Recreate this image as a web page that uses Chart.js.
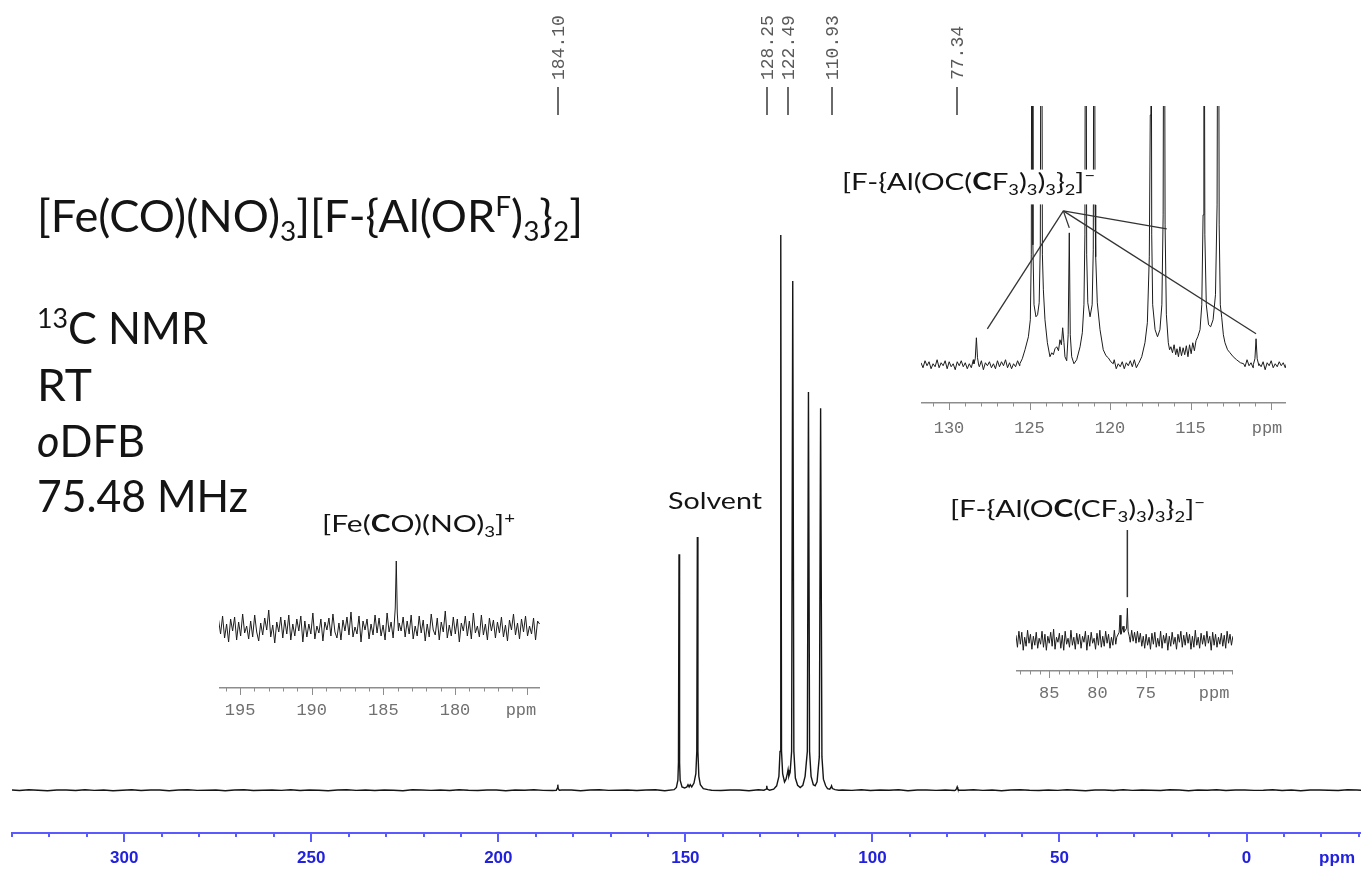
<!DOCTYPE html>
<html>
<head>
<meta charset="utf-8">
<script src="https://cdn.jsdelivr.net/npm/chart.js@4.4.1/dist/chart.umd.min.js"></script>
<style>
  html, body { margin: 0; padding: 0; background: #fff; }
  #wrap { position: relative; width: 1361px; height: 870px; overflow: hidden; background: #fff; }
  canvas { position: absolute; }
</style>
</head>
<body>
<div id="wrap">
  <canvas id="insetCO" width="321" height="172" style="left:219px;top:550px"></canvas>
  <canvas id="insetAnion" width="217" height="185" style="left:1016px;top:520px"></canvas>
  <canvas id="insetSolvent" width="365" height="331" style="left:921px;top:106px"></canvas>
  <canvas id="main" width="1361" height="870" style="left:0;top:0"></canvas>
</div>
<script>
// ---------- full 13C spectrum (intensity: tallest line = 100) ----------
const mainRange = [-30.6, 330.0];
const mainTickLabels = [300, 250, 200, 150, 100, 50, 0];
const mainUnitAt = -24.2;
const mainNoiseStart = 330.5, mainNoiseStep = 2.5;
const mainNoise = [
  0.05,-0.05,0.08,0,-0.08,0.05,0.03,-0.05,0.1,-0.03,0.05,-0.08,0,0.08,-0.05,0.03,0.05,-0.1,0.03,0.08,
  -0.03,0,0.05,-0.08,0.03,0.1,-0.05,0,0.05,-0.03,0.08,-0.05,0.03,0,-0.08,0.05,0.1,-0.03,0.03,-0.05,
  0.05,0,-0.08,0.08,0.03,-0.03,0.05,-0.05,0.1,0,-0.05,0.05,0.03,-0.08,0.05,0,0.08,-0.03,-0.05,0.05,
  0.03,-0.1,0.05,0.08,-0.03,0,0.05,-0.05,0.03,0.1,-0.08,0,0.05,-0.03,0.08,0,-0.05,0.03,0.05,-0.08,
  0.1,0,-0.03,0.05,-0.05,0.08,0.03,-0.08,0,0.05,-0.03,0.1,-0.05,0.03,0,0.08,-0.1,0.05,0.03,-0.03,
  0.05,-0.05,0,0.08,-0.03,0.05,-0.08,0.03,0.1,0,-0.05,0.05,-0.03,0.08,0,-0.08,0.05,0.03,-0.05,0.1,
  -0.03,0.05,0,-0.05,0.08,0.03,-0.08,0.05,0,0.1,-0.05,0.03,0.05,-0.03,0,0.08,-0.05,0.05,-0.08,0.03,
  0.05,0,-0.05,0.08,0.03,-0.03
];
const mainPeakCO = [[184.5,0],[184.2,0.4],[184.1,1.0],[184.0,0.3],[183.7,0]];
const mainPeaksCF = [[153.0,0.1],[152.4,0.5],[152.0,1.8],[151.85,5],[151.7,42.5],[151.55,5],[151.4,1.8],[150.9,0.6],[150.2,0.4],[149.6,0.6],[149.3,1.0],[149.0,0.6],[148.7,1.0],[148.3,0.6],[147.7,1.3],[147.2,3],[146.95,7],[146.8,45.6],[146.65,7],[146.4,2.5],[146.0,1.0],[145.2,0.3],[144.0,0.1]];
const mainPeak128 = [[129.0,0],[128.4,0.2],[128.25,0.8],[128.1,0.2],[127.5,0]];
const mainPeaksCH = [[126.4,0.2],[125.6,0.8],[125.0,2.5],[124.7,7],[124.5,100],[124.3,7],[124.0,3],[123.5,1.5],[123.1,2],[122.75,3],[122.55,3.7],[122.35,2.5],[122.0,3.2],[121.6,7],[121.3,91.7],[121.0,7],[120.6,2.2],[120.0,0.9],[119.3,0.5],[118.6,0.9],[118.0,2.5],[117.4,7],[117.1,71.7],[116.8,7],[116.4,2.5],[115.8,1.0],[115.3,0.8],[114.8,1.5],[114.2,6],[113.85,68.8],[113.5,6],[113.1,2],[112.5,0.8],[112.0,0.3],[111.4,0.2],[111.1,0.5],[110.93,0.8],[110.7,0.3],[110.0,0.1],[109.0,0]];
const mainPeak77 = [[77.8,0],[77.5,0.3],[77.34,0.6],[77.2,0.3],[76.9,0]];
const peakLabelPpm = [184.10, 128.25, 122.49, 110.93, 77.34];

// ---------- inset: carbonyl region ----------
const coRange = [174.07, 196.47];
const coTickLabels = [195, 190, 185, 180];
const coUnitAt = 175.4;
const coNoiseStart = 196.5, coNoiseStep = 0.14;
const coNoise = [
  8,-6,12,-10,4,-14,9,-3,11,-12,6,-8,14,-5,2,-11,7,-9,13,-4,
  -13,5,-7,10,-2,18,-9,3,-15,6,-4,11,-10,8,-6,13,-12,4,-8,9,
  -3,12,-14,7,-9,4,-6,15,-11,2,-5,9,-13,6,-2,10,-8,14,-4,-10,
  5,-12,8,-3,11,-7,16,-9,1,-6,12,-14,7,-2,9,-11,4,-7,13,-5,
  10,-8,3,-12,15,-4,6,-10,9,-15,5,-3,11,-9,7,-6,13,-11,2,-8,
  12,-5,8,-13,4,-9,14,-2,-7,10,-12,6,-4,17,-10,3,-8,11,-6,9,
  -14,5,-3,12,-8,7,-11,15,-5,2,-9,13,-7,4,-12,10,-3,8,-10,6,
  -5,11,-9,3,-13,8,-2,14,-7,5,-11,9,-4,12,-8,2,-6,10,-12,7,
  4
];
const coPeak = [[184.25,2],[184.17,20],[184.1,67],[184.03,15],[183.95,-3]];

// ---------- inset: anion quaternary carbon ----------
const anRange = [65.94, 88.45];
const anTickLabels = [85, 80, 75];
const anUnitAt = 67.9;
const anNoiseStart = 88.45, anNoiseStep = 0.15;
const anNoise = [
  5,-7,9,-4,8,-10,3,-6,10,-3,6,-9,4,-5,8,-8,2,-4,9,-7,
  6,-10,4,-3,8,-6,11,-9,3,-2,7,-8,5,-10,9,-4,2,-7,10,-5,
  3,-9,7,-4,6,-8,4,-2,9,-10,5,-6,8,-3,2,-9,7,-5,10,-7,
  4,-6,9,-3,6,-8,3,-5,10,-4,7,-2,11,-3,8,-1,12,-4,9,-2,
  10,-1,8,-3,9,-2,7,-6,4,-8,6,-5,3,-9,7,-4,8,-7,2,-6,
  9,-8,5,-3,7,-10,4,-6,8,-4,3,-9,6,-2,9,-7,5,-5,8,-3,
  6,-9,4,-7,10,-5,3,-8,7,-4,5,-6,9,-3,4,-10,8,-5,6,-7,
  3,-4,7,-6,5,-8,9,-3,6,-5,4
];
const anPeak = [[78.0,3],[77.75,8],[77.66,25],[77.57,6],[77.45,10],[77.35,14],[77.25,8],[77.1,10],[76.98,12],[76.9,32],[76.82,9],[76.7,4]];
const anPointer = [[76.9,43],[76.9,110]];

// ---------- inset: aromatic / CF3 region ----------
const soRange = [109.07, 131.74];
const soTickLabels = [130, 125, 120, 115];
const soUnitAt = 110.25;
const soNoiseStart = 131.74, soNoiseStep = 0.125;
const soNoise = [
  2,-3,4,-1,3,-4,1,-2,5,-3,2,-1,4,-4,3,-2,1,-5,3,-1,
  4,-2,2,-4,1,-3,5,-1,3,-2,4,-5,2,-1,3,-3,1,-4,4,-2,
  3,-1,5,-3,2,-4,1,-2,4,-1,3,-5,2,-3,4,-2,1,-1,3,-4,
  2,-3,4,-2,5,-1,3,-4,1,-2,4,-3,2,-5,3,-1,4,-2,1,-3,
  5,-2,3,-4,2,-1,4,-3,1,-5,3,-2,4,-1,2,-3,5,-4,1,-2,
  3,-4,2,-1,4,-2,5,-3,1,-1,3,-4,2,-2,4,-5,1,-3,3,-1,
  4,-3,1,-2,5,-4,2,-1,3,-3,4,-2,1,-5,2,-1,3,-4,4,-2,
  2,-1,3,-5,4,-2,1,-3,5,-1,2,-4,3,-2,1,-3,4,-1,2,-4,
  3,-2,5,-1,2,-3,4,-4,1,-2,3,-5,2,-1,4,-3,1,-2,3,-1,
  2,-3,4
];
const soPeak128 = [[128.45,1],[128.37,6],[128.3,27],[128.23,7],[128.15,-1]];
const soPeaks124 = [[125.6,1],[125.45,6],[125.28,15],[125.07,28],[124.95,45],[124.89,110],[124.84,600],[124.79,120],[124.72,60],[124.6,48],[124.5,50],[124.4,62],[124.33,120],[124.26,600],[124.2,110],[124.14,75],[124.04,45],[123.89,22],[123.73,8],[123.62,12],[123.52,10],[123.42,16],[123.31,18],[123.2,14],[123.11,25],[123.02,20],[122.94,37],[122.86,22],[122.8,8],[122.69,4],[122.6,30],[122.53,132],[122.47,30],[122.38,8],[122.24,1],[122.07,5],[121.86,18],[121.72,32],[121.62,60],[121.56,130],[121.51,600],[121.45,110],[121.38,62],[121.24,48],[121.11,60],[121.04,115],[120.98,600],[120.93,160],[120.89,108],[120.79,62],[120.62,35],[120.42,15],[120.25,9],[120.11,7],[119.95,3],[119.8,1]];
const soPeaks117 = [[118.2,2],[118.03,8],[117.83,22],[117.68,42],[117.56,108],[117.5,250],[117.46,600],[117.41,130],[117.35,60],[117.2,35],[117.05,28],[116.9,35],[116.78,60],[116.7,150],[116.64,600],[116.58,140],[116.5,50],[116.38,22],[116.3,15],[116.22,18],[116.12,12],[116.02,20],[115.92,10],[115.84,16],[115.75,8],[115.66,18],[115.56,9],[115.46,17],[115.36,10],[115.26,19],[115.16,8],[115.06,20],[114.96,11],[114.86,22],[114.76,14],[114.66,24],[114.55,28],[114.41,35],[114.3,60],[114.22,150],[114.17,600],[114.11,130],[114.02,60],[113.88,40],[113.75,38],[113.6,45],[113.45,70],[113.35,160],[113.28,600],[113.22,140],[113.15,60],[113.06,47],[112.96,30],[112.86,22],[112.7,15],[112.55,12],[112.35,8],[112.14,5],[111.9,2],[111.7,1]];
const soPeak111 = [[111.1,0],[111.0,6],[110.93,26],[110.86,6],[110.75,-1]];
const soPointers = [
  [[122.9,154],[127.62,36]],
  [[122.9,154],[122.53,137]],
  [[122.9,154],[116.48,136]],
  [[122.9,154],[110.93,31]]
];

// ---------- captions ----------
const captions = [
  {x:37, y:232, size:44, w:546, segs:[['[Fe(CO)(NO)',''],['3','sub'],['][F-{Al(OR',''],['F','sup'],[')',''],['3','sub'],['}',''],['2','sub'],[']','']]},
  {x:37, y:344, size:44, w:171, segs:[['13','sup'],['C NMR','']]},
  {x:37, y:401, size:44, w:55, segs:[['RT','']]},
  {x:37, y:457, size:44, w:108, segs:[['o','i'],['DFB','']]},
  {x:37, y:512, size:44, w:211, segs:[['75.48 MHz','']]},
  {x:322, y:532, size:24, w:193, segs:[['[Fe(',''],['C','b'],['O)(NO)',''],['3','sub'],[']',''],['+','sup']]},
  {x:668, y:509, size:24, w:94, segs:[['Solvent','']]},
  {x:950, y:517, size:24, w:255, segs:[['[F-{Al(O',''],['C','b'],['(CF',''],['3','sub'],[')',''],['3','sub'],[')',''],['3','sub'],['}',''],['2','sub'],[']',''],['\u2212','sup']]},
  {x:842, y:190, size:24, w:253, bg:'#ffffff', segs:[['[F-{Al(OC(',''],['C','b'],['F',''],['3','sub'],[')',''],['3','sub'],[')',''],['3','sub'],['}',''],['2','sub'],[']',''],['\u2212','sup']]}
];

// ---------- helpers ----------
function sampled(start, step, values) {
  return values.map((v, i) => ({ x: Math.round((start - i * step) * 1000) / 1000, y: v }));
}
function mergeTrace(base, groups) {
  const spans = groups.map(g => [Math.min(...g.map(q => q[0])), Math.max(...g.map(q => q[0]))]);
  const pts = base.filter(p => !spans.some(s => p.x >= s[0] && p.x <= s[1]));
  groups.forEach(g => g.forEach(q => pts.push({ x: q[0], y: q[1] })));
  pts.sort((a, b) => b.x - a.x);
  return pts;
}
function drawRich(ctx, c, family, color) {
  const parts = c.segs.map(([t, st]) => {
    const small = st === 'sub' || st === 'sup';
    const fs = small ? c.size * 0.62 : c.size;
    const font = (st === 'i' ? 'italic ' : '') + (st === 'b' ? 'bold ' : '') + fs + 'px ' + family;
    ctx.font = font;
    return { t, font, w: ctx.measureText(t).width, dy: st === 'sub' ? c.size * 0.2 : st === 'sup' ? -c.size * 0.36 : 0 };
  });
  const total = parts.reduce((a, p) => a + p.w, 0);
  const k = c.w ? c.w / total : 1;
  ctx.save();
  if (c.bg) {
    ctx.fillStyle = c.bg;
    ctx.fillRect(c.x - 2, c.y - c.size * 0.85, c.w + 4, c.size * 1.45);
  }
  ctx.translate(c.x, c.y);
  ctx.scale(k, 1);
  ctx.fillStyle = color;
  ctx.textBaseline = 'alphabetic';
  ctx.textAlign = 'left';
  let cx = 0;
  parts.forEach(p => { ctx.font = p.font; ctx.fillText(p.t, cx, p.dy); cx += p.w; });
  ctx.restore();
}

// tick marks drawn along the x axis (long at labelled values, short every minor step)
const axisTicks = {
  id: 'axisTicks',
  afterDraw(chart, args, o) {
    if (!o || !o.minor) return;
    const sx = chart.scales.x, ctx = chart.ctx, y0 = chart.chartArea.bottom;
    ctx.save();
    ctx.strokeStyle = o.color;
    const first = Math.ceil(sx.min / o.minor) * o.minor;
    for (let v = first; v <= sx.max + 1e-9; v += o.minor) {
      const vv = Math.round(v * 1000) / 1000;
      const major = Math.abs(vv / o.major - Math.round(vv / o.major)) < 1e-6;
      const w = major ? o.majorWidth : o.minorWidth;
      let x = sx.getPixelForValue(vv);
      x = (w % 2 === 1) ? Math.round(x) + 0.5 : Math.round(x);
      ctx.lineWidth = w;
      ctx.beginPath();
      ctx.moveTo(x, y0);
      ctx.lineTo(x, y0 + (major ? o.majorLen : o.minorLen));
      ctx.stroke();
    }
    ctx.restore();
  }
};

// straight pointer lines from a caption to lines of the spectrum
const pointerLines = {
  id: 'pointerLines',
  afterDatasetsDraw(chart, args, o) {
    if (!o || !o.lines) return;
    const sx = chart.scales.x, sy = chart.scales.y, ctx = chart.ctx;
    ctx.save();
    ctx.strokeStyle = o.color;
    ctx.lineWidth = o.width;
    o.lines.forEach(([a, b]) => {
      ctx.beginPath();
      ctx.moveTo(sx.getPixelForValue(a[0]), sy.getPixelForValue(a[1]));
      ctx.lineTo(sx.getPixelForValue(b[0]), sy.getPixelForValue(b[1]));
      ctx.stroke();
    });
    ctx.restore();
  }
};

// chemical-shift markers above the spectrum
const shiftMarks = {
  id: 'shiftMarks',
  afterDraw(chart, args, o) {
    if (!o || !o.values) return;
    const sx = chart.scales.x, ctx = chart.ctx;
    ctx.save();
    o.values.forEach(v => {
      const x = Math.round(sx.getPixelForValue(v));
      ctx.strokeStyle = '#6a6a6a';
      ctx.lineWidth = 2;
      ctx.beginPath(); ctx.moveTo(x, 87); ctx.lineTo(x, 115); ctx.stroke();
      ctx.save();
      ctx.translate(x + 1, 80);
      ctx.rotate(-Math.PI / 2);
      ctx.font = '18px "Liberation Mono"';
      ctx.fillStyle = '#5a5a5a';
      ctx.textAlign = 'left';
      ctx.textBaseline = 'middle';
      ctx.fillText(v.toFixed(2), 0, 0);
      ctx.restore();
    });
    ctx.restore();
  }
};

const captionText = {
  id: 'captionText',
  afterDraw(chart, args, o) {
    if (!o || !o.items) return;
    o.items.forEach(c => drawRich(chart.ctx, c, 'Lato', '#141414'));
  }
};

Chart.register(axisTicks, pointerLines, shiftMarks, captionText);

function xAxis(range, labels, unitAt, opts) {
  return {
    type: 'linear',
    reverse: true,
    min: range[0],
    max: range[1],
    afterFit: s => { s.height = opts.axisHeight; },
    afterBuildTicks: s => {
      const t = [s.min].concat(labels, [unitAt, s.max]).sort((a, b) => a - b);
      s.ticks = t.map(v => ({ value: v }));
    },
    border: { display: true, color: opts.lineColor, width: opts.lineWidth },
    grid: { display: true, drawOnChartArea: false, drawTicks: true, tickLength: opts.tickLength, tickColor: 'rgba(0,0,0,0)' },
    ticks: {
      autoSkip: false,
      maxRotation: 0,
      minRotation: 0,
      padding: opts.padding,
      color: opts.labelColor,
      font: opts.font,
      callback: v => labels.includes(v) ? String(v) : (v === unitAt ? 'ppm' : '')
    }
  };
}

function lineDataset(points, color, width) {
  return { data: points, borderColor: color, borderWidth: width, pointRadius: 0, fill: false, tension: 0 };
}

function build() {
  const common = {
    responsive: false,
    animation: false,
    devicePixelRatio: 1,
    events: [],
    plugins: { legend: { display: false }, tooltip: { enabled: false } }
  };

  // full spectrum
  const mainTrace = mergeTrace(sampled(mainNoiseStart, mainNoiseStep, mainNoise),
    [mainPeakCO, mainPeaksCF, mainPeak128, mainPeaksCH, mainPeak77]);
  new Chart(document.getElementById('main'), {
    type: 'line',
    data: { datasets: [lineDataset(mainTrace, '#151515', 1.4)] },
    options: Object.assign({}, common, {
      layout: { padding: { left: 12, right: 0, top: 0, bottom: 0 } },
      scales: {
        x: xAxis(mainRange, mainTickLabels, mainUnitAt, {
          axisHeight: 37, lineColor: '#5a5aff', lineWidth: 2, tickLength: 9, padding: 6,
          labelColor: '#2222dd', font: { family: '"Liberation Sans", Arial, sans-serif', size: 17, weight: 'bold' }
        }),
        y: { display: false, min: -7.7, max: 142.3 }
      },
      plugins: Object.assign({}, common.plugins, {
        axisTicks: { minor: 10, major: 50, majorLen: 9, minorLen: 4, majorWidth: 2, minorWidth: 2, color: '#5a5aff' },
        shiftMarks: { values: peakLabelPpm },
        captionText: { items: captions }
      })
    })
  });

  const insetAxis = (range, labels, unitAt, h, pad) => xAxis(range, labels, unitAt, {
    axisHeight: h, lineColor: '#8d8d8d', lineWidth: 1.5, tickLength: 7, padding: pad,
    labelColor: '#707070', font: { family: '"Liberation Mono", monospace', size: 17 }
  });
  const insetTicks = { minor: 1, major: 5, majorLen: 7, minorLen: 3.5, majorWidth: 1, minorWidth: 1, color: '#8d8d8d' };

  // carbonyl inset
  new Chart(document.getElementById('insetCO'), {
    type: 'line',
    data: { datasets: [lineDataset(mergeTrace(sampled(coNoiseStart, coNoiseStep, coNoise), [coPeak]), '#1c1c1c', 1)] },
    options: Object.assign({}, common, {
      layout: { padding: 0 },
      scales: { x: insetAxis(coRange, coTickLabels, coUnitAt, 34, 5), y: { display: false, min: -60, max: 78 } },
      plugins: Object.assign({}, common.plugins, { axisTicks: insetTicks })
    })
  });

  // anion quaternary carbon inset
  new Chart(document.getElementById('insetAnion'), {
    type: 'line',
    data: { datasets: [lineDataset(mergeTrace(sampled(anNoiseStart, anNoiseStep, anNoise), [anPeak]), '#1c1c1c', 1)] },
    options: Object.assign({}, common, {
      layout: { padding: 0 },
      scales: { x: insetAxis(anRange, anTickLabels, anUnitAt, 34, 5), y: { display: false, min: -30.7, max: 120 } },
      plugins: Object.assign({}, common.plugins, {
        axisTicks: insetTicks,
        pointerLines: { lines: [anPointer], color: '#333', width: 1.5 }
      })
    })
  });

  // aromatic / CF3 inset
  new Chart(document.getElementById('insetSolvent'), {
    type: 'line',
    data: { datasets: [lineDataset(mergeTrace(sampled(soNoiseStart, soNoiseStep, soNoise), [soPeak128, soPeaks124, soPeaks117, soPeak111]), '#1c1c1c', 1)] },
    options: Object.assign({}, common, {
      layout: { padding: 0 },
      scales: { x: insetAxis(soRange, soTickLabels, soUnitAt, 34, 8), y: { display: false, min: -38.3, max: 259 } },
      plugins: Object.assign({}, common.plugins, {
        axisTicks: insetTicks,
        pointerLines: { lines: soPointers, color: '#333', width: 1.3 }
      })
    })
  });
}

const fontLoads = ['44px Lato', 'bold 24px Lato', 'italic 44px Lato', '18px "Liberation Mono"', 'bold 17px "Liberation Sans"']
  .map(f => document.fonts.load(f).catch(() => null));
Promise.all(fontLoads).then(build, build);
</script>
</body>
</html>
